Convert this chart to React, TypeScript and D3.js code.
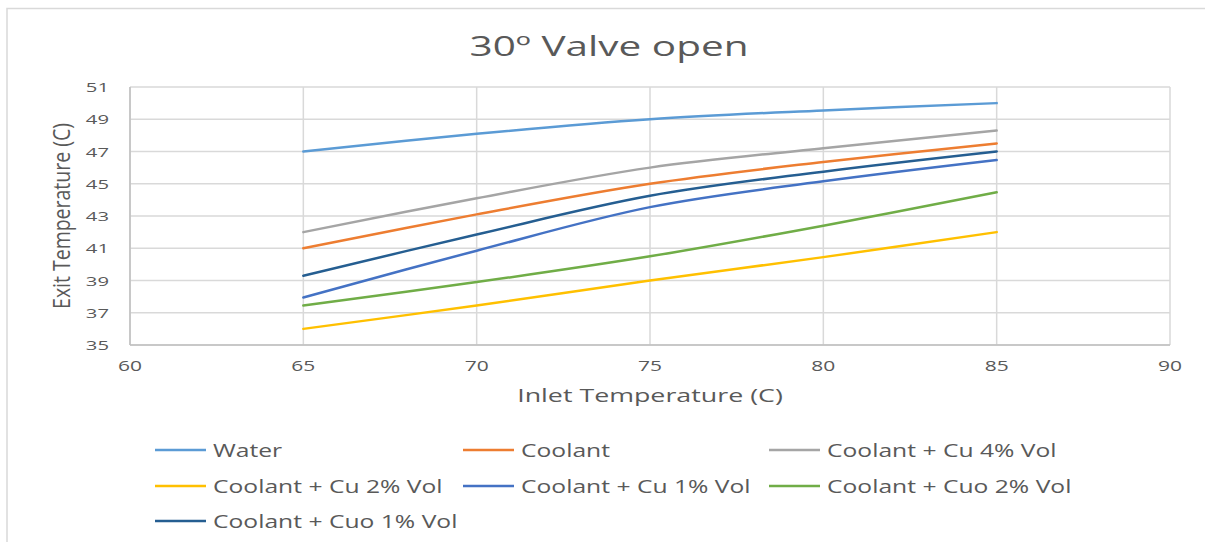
import React from "react";
import * as d3 from "d3";

const inletTemps = [65, 70, 75, 80, 85];
const seriesNames = [
  "Water",
  "Coolant",
  "Coolant + Cu 4% Vol",
  "Coolant + Cu 2% Vol",
  "Coolant + Cu 1% Vol",
  "Coolant + Cuo 2% Vol",
  "Coolant + Cuo 1% Vol",
];
const water = [47.0, 48.1, 49.0, 49.55, 50.0];
const coolant = [41.0, 43.1, 45.0, 46.35, 47.5];
const cu4 = [42.0, 44.1, 46.0, 47.2, 48.3];
const cu2 = [36.0, 37.45, 39.0, 40.45, 42.0];
const cu1 = [37.95, 40.85, 43.55, 45.15, 46.47];
const cuo2 = [37.45, 38.9, 40.5, 42.4, 44.47];
const cuo1 = [39.3, 41.85, 44.25, 45.75, 47.0];
const seriesValues = [water, coolant, cu4, cu2, cu1, cuo2, cuo1];
const seriesColors = ["#5B9BD5", "#ED7D31", "#A5A5A5", "#FFC000", "#4472C4", "#70AD47", "#255E91"];
const xTicks = [60, 65, 70, 75, 80, 85, 90];
const yTicks = [35, 37, 39, 41, 43, 45, 47, 49, 51];

const FONT = "'Open Sans', sans-serif";
const TXT = "#595959";

function SText(props: {
  x: number; y: number; size: number; sx: number; anchor?: string; rotate?: number; children: React.ReactNode;
}) {
  const { x, y, size, sx, anchor = "start", rotate = 0, children } = props;
  return (
    <text
      transform={`translate(${x},${y}) scale(${sx},1) rotate(${rotate})`}
      fontFamily={FONT}
      fontSize={size}
      fill={TXT}
      textAnchor={anchor}
      dominantBaseline="central"
    >
      {children}
    </text>
  );
}

export default function App() {
  const W = 1205, H = 542;
  const x = d3.scaleLinear().domain([60, 90]).range([130, 1170]);
  const y = d3.scaleLinear().domain([35, 51]).range([345, 87]);
  const line = d3
    .line<number>()
    .x((_, i) => x(inletTemps[i]))
    .y((d) => y(d))
    .curve(d3.curveCardinal.tension(0));

  const legendCols = [155, 463, 769];
  const legendRows = [450, 486, 521];

  return (
    <svg width={W} height={H} style={{ position: "absolute", left: 0, top: 0, background: "#fff" }}>
      <rect x={0} y={0} width={W} height={H} fill="#fff" />
      <rect x={7} y={8.5} width={W + 20} height={H + 20} fill="none" stroke="#d9d9d9" strokeWidth={1.5} />
      <SText x={609} y={45} size={27} sx={1.5} anchor="middle">30º Valve open</SText>

      {yTicks.map((t) => (
        <line key={"h" + t} x1={x(60)} x2={x(90)} y1={y(t)} y2={y(t)} stroke="#d9d9d9" strokeWidth={1.5} />
      ))}
      {xTicks.map((t) => (
        <line key={"v" + t} x1={x(t)} x2={x(t)} y1={y(51)} y2={y(35)} stroke="#d9d9d9" strokeWidth={1.5} />
      ))}
      <line x1={x(60)} x2={x(90)} y1={y(35)} y2={y(35)} stroke="#bfbfbf" strokeWidth={1.5} />
      <line x1={x(60)} x2={x(60)} y1={y(51)} y2={y(35)} stroke="#bfbfbf" strokeWidth={1.5} />

      {yTicks.map((t) => (
        <SText key={"yl" + t} x={109} y={y(t)} size={13.5} sx={1.5} anchor="end">{t}</SText>
      ))}
      {xTicks.map((t) => (
        <SText key={"xl" + t} x={x(t)} y={366} size={14} sx={1.5} anchor="middle">{t}</SText>
      ))}

      <SText x={650} y={395} size={19} sx={1.41} anchor="middle">Inlet Temperature (C)</SText>
      <SText x={61} y={y(43)} size={19.5} sx={1.2} anchor="middle" rotate={-90}>Exit Temperature (C)</SText>

      {seriesValues.map((vals, i) => (
        <path key={"s" + i} d={line(vals) || ""} fill="none" stroke={seriesColors[i]} strokeWidth={2.5} strokeLinecap="round" />
      ))}

      {seriesNames.map((name, i) => {
        const cx = legendCols[i % 3];
        const cy = legendRows[Math.floor(i / 3)];
        return (
          <g key={"lg" + i}>
            <line x1={cx} x2={cx + 51} y1={cy} y2={cy} stroke={seriesColors[i]} strokeWidth={2.5} />
            <SText x={cx + 58} y={cy} size={18} sx={1.37}>{name}</SText>
          </g>
        );
      })}
    </svg>
  );
}
